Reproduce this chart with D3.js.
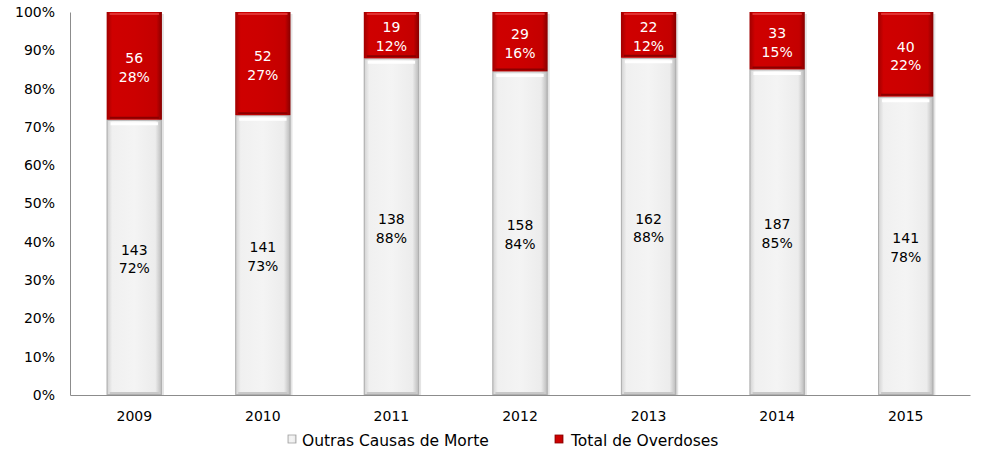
<!DOCTYPE html>
<html><head><meta charset="utf-8">
<script src="https://cdn.jsdelivr.net/npm/d3@7"></script>
<style>body{margin:0;background:#fff;} text{font-family:"DejaVu Sans",sans-serif;}</style>
</head><body>
<svg id="c" width="1004" height="453"></svg>
<script>
const years = ["2009","2010","2011","2012","2013","2014","2015"];
const outras = [143,141,138,158,162,187,141];
const overdoses = [56,52,19,29,22,33,40];
const seriesNames = ["Outras Causas de Morte","Total de Overdoses"];
const yTicks = [0,0.1,0.2,0.3,0.4,0.5,0.6,0.7,0.8,0.9,1];

(function(){
const FONT = "DejaVu Sans, sans-serif";
const svg = d3.select("#c");
const mL = 70, mR = 970, mT = 12, mB = 395;
const x = d3.scaleBand().domain(years).range([mL,mR]).paddingInner(0.57).paddingOuter(0.285);
const y = d3.scaleLinear().domain([0,1]).range([mB,mT]);

const defs = svg.append("defs");
const gg = defs.append("linearGradient").attr("id","gGray");
[[0,"#d0d0d0"],[0.1,"#f0f0f0"],[0.5,"#f4f4f4"],[0.88,"#ececec"],[1,"#b8b8b8"]].forEach(([o,c])=>gg.append("stop").attr("offset",o).attr("stop-color",c));
const gr = defs.append("linearGradient").attr("id","gRed");
[[0,"#a00000"],[0.1,"#cf0000"],[0.5,"#cc0000"],[0.9,"#c40000"],[1,"#860000"]].forEach(([o,c])=>gr.append("stop").attr("offset",o).attr("stop-color",c));

svg.append("g").attr("transform",`translate(${mL},0)`)
  .call(d3.axisLeft(y).tickValues(yTicks).tickFormat(d3.format(".0%")).tickSize(0).tickPadding(15))
  .call(g=>{g.select(".domain").attr("stroke","#8c8c8c");g.selectAll("text").attr("font-size",14).attr("fill","#000").style("font-family",FONT);});
svg.append("g").attr("transform",`translate(0,${mB})`)
  .call(d3.axisBottom(x).tickSize(0).tickPadding(16))
  .call(g=>{g.select(".domain").attr("stroke","#8c8c8c");g.selectAll("text").attr("font-size",14).attr("fill","#000").style("font-family",FONT);});

const data = years.map((yr,i)=>{const t=outras[i]+overdoses[i];return {yr,o:outras[i],d:overdoses[i],po:outras[i]/t,pd:overdoses[i]/t};});
const bw = x.bandwidth();

data.forEach(d=>{
  const x0 = x(d.yr);
  svg.append("rect").attr("x",x0+2).attr("y",y(1)+2).attr("width",bw).attr("height",y(0)-y(1)-2).attr("fill","#e4e4e4");
  const gy = y(d.po), gh = y(0)-y(d.po);
  svg.append("rect").attr("x",x0).attr("y",gy).attr("width",bw).attr("height",gh).attr("fill","url(#gGray)");
  svg.append("rect").attr("x",x0+0.5).attr("y",gy+0.5).attr("width",bw-1).attr("height",gh-1).attr("fill","none").attr("stroke","#b0b0b0");
  svg.append("line").attr("x1",x0+4).attr("x2",x0+bw-4).attr("y1",gy+4).attr("y2",gy+4).attr("stroke","#ffffff").attr("stroke-width",3);
  svg.append("line").attr("x1",x0+3).attr("x2",x0+bw-3).attr("y1",y(0)-2).attr("y2",y(0)-2).attr("stroke","#c8c8c8").attr("stroke-width",2);
  const ry = y(1), rh = y(d.po)-y(1);
  svg.append("rect").attr("x",x0).attr("y",ry).attr("width",bw).attr("height",rh).attr("fill","url(#gRed)");
  svg.append("line").attr("x1",x0+3).attr("x2",x0+bw-3).attr("y1",ry+2).attr("y2",ry+2).attr("stroke","#e03030").attr("stroke-width",2);
  svg.append("line").attr("x1",x0+3).attr("x2",x0+bw-3).attr("y1",ry+rh-2).attr("y2",ry+rh-2).attr("stroke","#8a0000").attr("stroke-width",2);
  const cx = x0+bw/2;
  const gc = (y(0)+y(d.po))/2, rc = (y(1)+y(d.po))/2;
  const t1 = svg.append("text").attr("x",cx).attr("y",gc).attr("text-anchor","middle").attr("font-size",14).attr("fill","#000").style("font-family",FONT);
  t1.append("tspan").attr("x",cx).attr("dy","-0.2em").text(d.o);
  t1.append("tspan").attr("x",cx).attr("dy","1.35em").text(Math.round(d.po*100)+"%");
  const t2 = svg.append("text").attr("x",cx).attr("y",rc).attr("text-anchor","middle").attr("font-size",14).attr("fill","#fff").style("font-family",FONT);
  t2.append("tspan").attr("x",cx).attr("dy","-0.2em").text(d.d);
  t2.append("tspan").attr("x",cx).attr("dy","1.35em").text(Math.round(d.pd*100)+"%");
});

const leg = [{name:seriesNames[0],fill:"url(#gGray)",stroke:"#a0a0a0",x:288,tx:302},{name:seriesNames[1],fill:"url(#gRed)",stroke:"#8a0000",x:555,tx:571}];
leg.forEach(l=>{
  svg.append("rect").attr("x",l.x).attr("y",435).attr("width",8).attr("height",8).attr("fill",l.fill).attr("stroke",l.stroke).attr("stroke-width",0.8);
  svg.append("text").attr("x",l.tx).attr("y",446).attr("font-size",15.5).attr("fill","#000").style("font-family",FONT).text(l.name);
});
})();
</script>
</body></html>
